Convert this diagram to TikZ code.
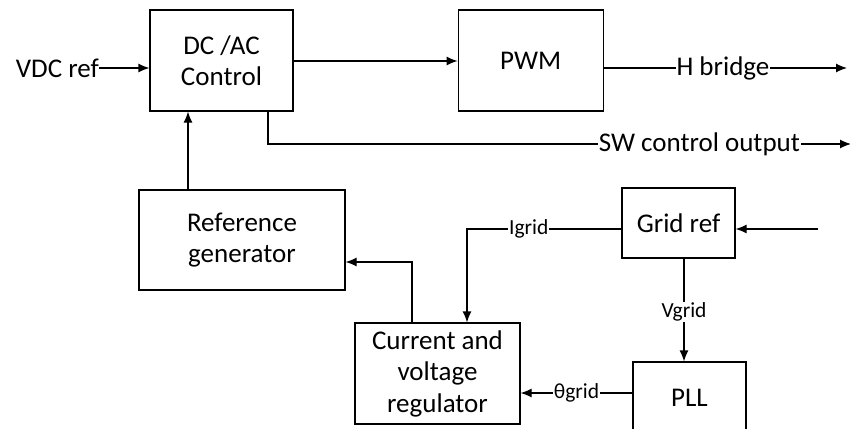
\documentclass[tikz,border=0pt]{standalone}
\usepackage{fontspec}
\setmainfont{Carlito}
\usetikzlibrary{arrows.meta, positioning}

\begin{document}
\begin{tikzpicture}[
    x=1pt, y=-1pt,
    font=\fontsize{27}{31.5}\selectfont,
    % block and connector styles
    block/.style={rectangle, draw=black, line width=1.2pt, align=center, inner sep=0pt},
    arr/.style={-{Latex[length=11pt,width=9pt]}, line width=1.2pt},
    sig/.style={fill=white, inner sep=1pt},
    smalllabel/.style={font=\fontsize{21.5}{26}\selectfont, fill=white, inner sep=1pt}
]

\clip (0,0) rectangle (850,428);

% ========================================================
% TOP ROW: control and modulation
% ========================================================

\node[block, minimum width=143pt, minimum height=101pt] (dcac) at (221.5,60.5) {DC /AC\\Control};
\node[block, minimum width=145pt, minimum height=101pt, right=164pt of dcac] (pwm) {PWM};
\draw[arr] ([yshift=-0.5pt]dcac.east) -- ([yshift=-0.5pt]pwm.west);

\node[anchor=east, inner sep=0pt] (vdc) at (99,68) {VDC ref};
\draw[arr] (vdc.east) -- (vdc.east -| dcac.west);

\coordinate (hbend) at (847,68);
\draw[arr] (hbend -| pwm.east) -- node[sig, pos=0.49] {H bridge} (hbend);

\coordinate (swend) at (851,144);
\draw[arr] ([xshift=46.5pt]dcac.south) |- node[sig, pos=0.87] {SW control output} (swend);

% ========================================================
% FEEDBACK: reference generation and regulation
% ========================================================

\node[block, minimum width=206pt, minimum height=100pt] (refgen) at (242,240) {Reference\\generator};
\coordinate (rtop) at ([xshift=-54pt]refgen.north);
\draw[arr] (rtop) -- (rtop |- dcac.south);

\node[block, minimum width=165pt, minimum height=101pt] (reg) at (437.5,373.5) {Current and\\voltage\\regulator};
\draw[arr] ([xshift=-25.5pt]reg.north) |- ([yshift=-22pt]refgen.east);

% Grid reference and PLL
\node[block, minimum width=113pt, minimum height=70pt] (gridref) at (678.5,223) {Grid ref};
\coordinate (gin) at (818,229);
\draw[arr] (gin) -- (gin -| gridref.east);
\draw[arr] (gin -| gridref.west) -| node[smalllabel, pos=0.3] {Igrid} ([xshift=29.5pt]reg.north);

\node[block, minimum width=113pt, minimum height=72pt] (pll) at (689.5,398) {PLL};
\coordinate (vtop) at ([xshift=5.5pt]gridref.south);
\draw[arr] (vtop) -- node[smalllabel, pos=0.52] {Vgrid} (vtop |- pll.north);

\coordinate (pout) at ([yshift=5pt]pll.west);
\draw[arr] (pout) -- node[smalllabel] {θgrid} (pout -| reg.east);

\end{tikzpicture}
\end{document}
